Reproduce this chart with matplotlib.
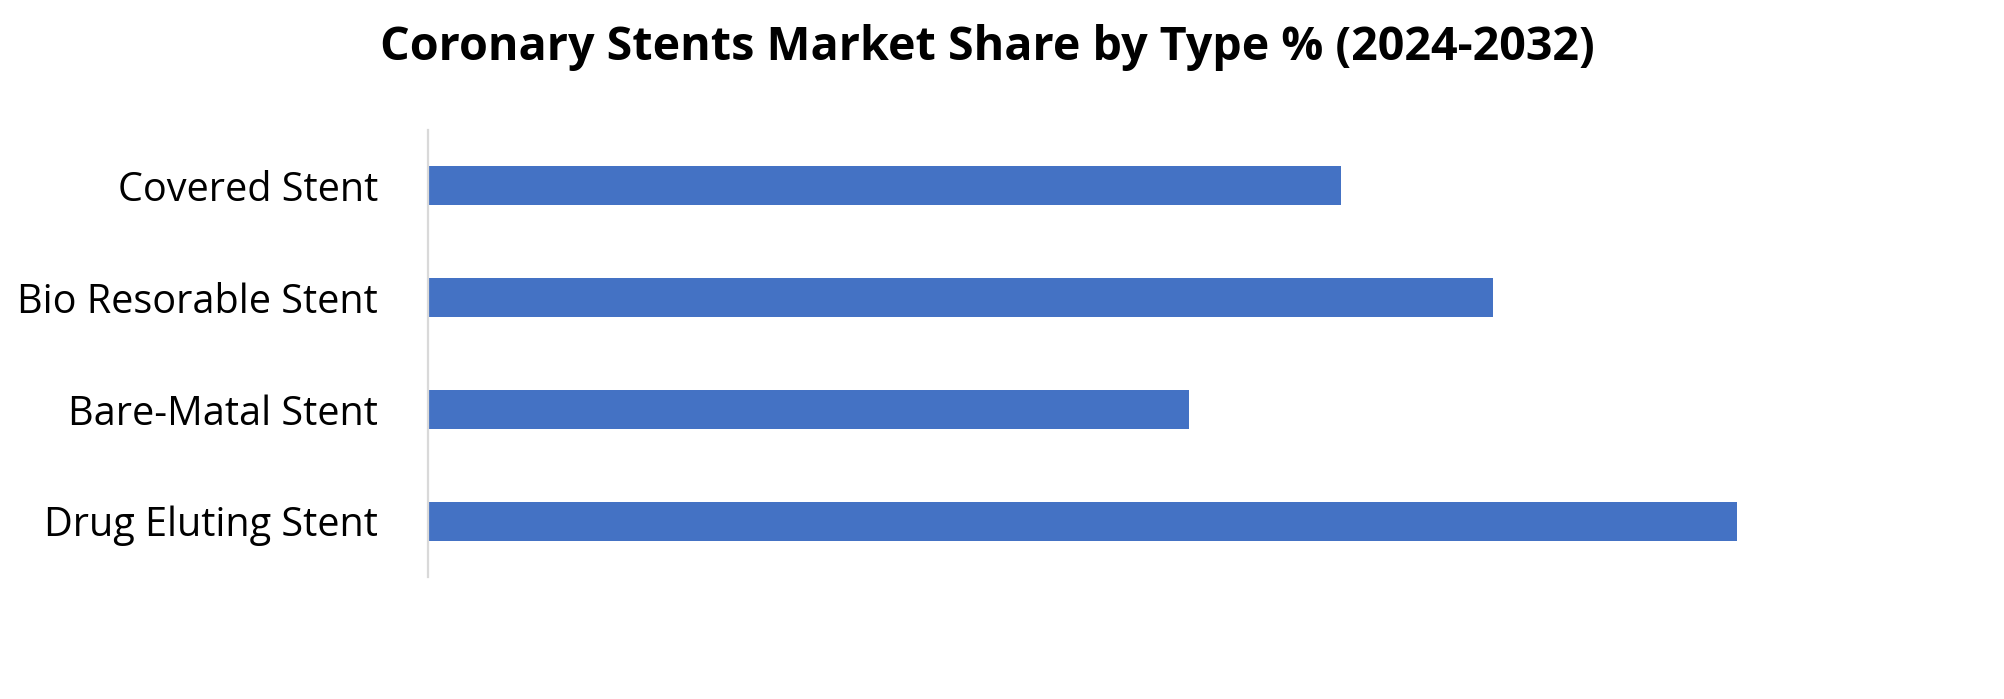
import matplotlib
matplotlib.use("Agg")
import matplotlib.pyplot as plt

categories = ["Drug Eluting Stent", "Bare-Matal Stent", "Bio Resorable Stent", "Covered Stent"]
values = [43, 25, 35, 30]
title = "Coronary Stents Market Share by Type % (2024-2032)"

BAR_COLOR = "#4472C4"
AXIS_COLOR = "#D9D9D9"
FONT = "Open Sans"

fig = plt.figure(figsize=(20.04, 6.99), dpi=100)
ax = fig.add_axes([428 / 2004, 1 - 577 / 699, (1950 - 428) / 2004, (577 - 130) / 699])

y = list(range(len(categories)))
ax.barh(y, values, height=0.35, color=BAR_COLOR, zorder=2)

ax.set_xlim(0, 50)
ax.set_ylim(-0.5, len(categories) - 0.5)
ax.set_yticks(y)
ax.set_yticklabels(categories, fontsize=28.5, family=FONT, color="black")
ax.tick_params(axis="y", length=0, pad=36)
ax.set_xticks([])

for s in ["top", "right", "bottom"]:
    ax.spines[s].set_visible(False)
ax.spines["left"].set_color(AXIS_COLOR)
ax.spines["left"].set_linewidth(1.6)

fig.text(987 / 2004, 1 - 60 / 699, title, ha="center", va="baseline",
         fontsize=33.6, fontweight="bold", family=FONT, color="black")

fig.savefig("out.png", dpi=100, facecolor="white")
